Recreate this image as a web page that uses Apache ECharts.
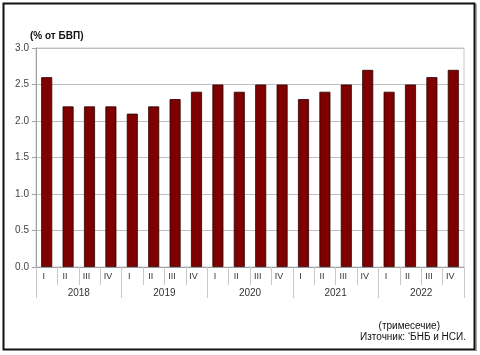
<!DOCTYPE html>
<html><head><meta charset="utf-8">
<script src="https://cdn.jsdelivr.net/npm/echarts@6/dist/echarts.min.js"></script>
<style>html,body{margin:0;padding:0;background:#fff}#c{width:480px;height:355px}</style>
</head><body><div id="c"></div>
<script>
var quarters = ['I','II','III','IV','I','II','III','IV','I','II','III','IV','I','II','III','IV','I','II','III','IV'];
var years = ['2018','2019','2020','2021','2022'];
var values = [2.6,2.2,2.2,2.2, 2.1,2.2,2.3,2.4, 2.5,2.4,2.5,2.5, 2.3,2.4,2.5,2.7, 2.4,2.5,2.6,2.7];
var yTicks = [0,0.5,1,1.5,2,2.5,3];

var chart = echarts.init(document.getElementById('c'), null, {renderer:'canvas'});
var font = 'Liberation Sans, Arial, sans-serif';
chart.setOption({
  animation:false,
  grid:{left:36,right:16,top:48,bottom:88,show:true,borderColor:'#c8c8c8',borderWidth:1,backgroundColor:'transparent'},
  xAxis:[{
    type:'category',data:quarters,position:'bottom',
    axisLine:{show:true,lineStyle:{color:'#a0a0a0',width:1}},
    axisTick:{show:true,length:18,lineStyle:{color:'#c8c8c8'}},
    axisLabel:{color:'#333',fontFamily:font,fontSize:9,margin:5,interval:0,padding:[0,6,0,0]}
  },{
    type:'category',data:years,position:'bottom',
    axisLine:{show:false},
    axisTick:{show:true,length:31,lineStyle:{color:'#c8c8c8'}},
    axisLabel:{color:'#333',fontFamily:font,fontSize:10,margin:21,interval:0}
  }],
  yAxis:{
    type:'value',min:0,max:3,interval:0.5,
    axisLine:{show:true,lineStyle:{color:'#a0a0a0'}},
    axisTick:{show:true,length:4,lineStyle:{color:'#a0a0a0'}},
    axisLabel:{color:'#444',fontFamily:font,fontSize:10,margin:7,formatter:function(v){return v.toFixed(1);}},
    splitLine:{show:true,lineStyle:{color:'#c0c0c0',width:1}}
  },
  series:[{
    type:'bar',data:values,xAxisIndex:0,barWidth:11,
    itemStyle:{color:'#7f0000',borderColor:'#2a0000',borderWidth:0.8}
  }],
  graphic:[
    {type:'rect',shape:{x:3.5,y:3.5,width:471,height:346},style:{fill:'none',stroke:'#111',lineWidth:2},z:100},
    {type:'line',shape:{x1:476,y1:4,x2:476,y2:351},style:{stroke:'#555',lineWidth:1},z:100},
    {type:'text',left:30,top:31,style:{text:'(% от БВП)',font:'bold 10px '+font,fill:'#111'}},
    {type:'text',right:40,top:321,style:{text:'(тримесечие)',font:'10px '+font,fill:'#111'}},
    {type:'text',right:14,top:332,style:{text:'Източник: ‘БНБ и НСИ.',font:'10px '+font,fill:'#111'}}
  ]
});
</script></body></html>
